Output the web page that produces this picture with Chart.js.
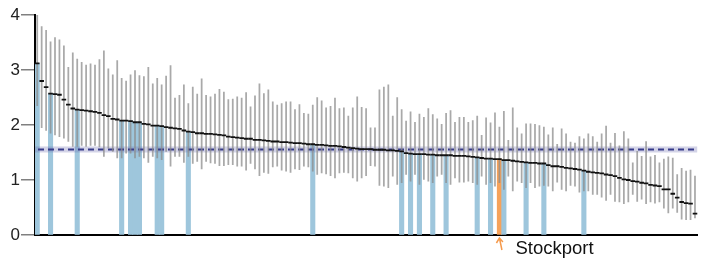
<!DOCTYPE html>
<html>
<head>
<meta charset="utf-8">
<script src="https://cdn.jsdelivr.net/npm/chart.js@4.4.1/dist/chart.umd.min.js"></script>
<style>
  html, body { margin: 0; padding: 0; background: #fff; }
</style>
</head>
<body>
<canvas id="chart" width="703" height="262"></canvas>
<script>
// point estimates, sorted high to low (one per area)
const estimates = [
  3.12, 2.80, 2.69, 2.57, 2.56, 2.55, 2.46, 2.37, 2.30, 2.28,
  2.27, 2.26, 2.25, 2.24, 2.22, 2.18, 2.16, 2.11, 2.10, 2.08,
  2.08, 2.07, 2.05, 2.05, 2.02, 2.01, 1.99, 1.99, 1.98, 1.96,
  1.95, 1.94, 1.93, 1.90, 1.88, 1.87, 1.85, 1.85, 1.84, 1.84,
  1.83, 1.82, 1.81, 1.79, 1.78, 1.77, 1.76, 1.75, 1.75, 1.73,
  1.73, 1.72, 1.71, 1.70, 1.70, 1.69, 1.69, 1.68, 1.67, 1.67,
  1.66, 1.65, 1.65, 1.64, 1.64, 1.63, 1.62, 1.62, 1.61, 1.60,
  1.59, 1.58, 1.57, 1.56, 1.56, 1.56, 1.55, 1.55, 1.55, 1.54,
  1.54, 1.53, 1.52, 1.49, 1.48, 1.47, 1.47, 1.47, 1.46, 1.46,
  1.45, 1.45, 1.45, 1.45, 1.44, 1.44, 1.44, 1.43, 1.42, 1.41,
  1.40, 1.39, 1.39, 1.38, 1.38, 1.36, 1.36, 1.35, 1.34, 1.33,
  1.32, 1.31, 1.31, 1.30, 1.30, 1.27, 1.25, 1.25, 1.24, 1.22,
  1.21, 1.20, 1.19, 1.17, 1.15, 1.14, 1.13, 1.12, 1.10, 1.09,
  1.07, 1.04, 1.01, 1.00, 0.98, 0.97, 0.95, 0.94, 0.91, 0.90,
  0.89, 0.83, 0.83, 0.75, 0.68, 0.60, 0.58, 0.57, 0.39
];

const upper = [
  4.06, 3.79, 3.72, 3.51, 3.59, 3.55, 3.44, 3.05, 3.31, 3.20,
  3.14, 3.09, 3.11, 3.09, 3.19, 3.35, 3.02, 2.91, 3.17, 2.85,
  2.80, 2.91, 2.99, 2.90, 2.88, 3.05, 2.75, 2.85, 2.73, 2.89,
  3.08, 2.49, 2.54, 2.73, 2.39, 2.69, 2.56, 2.84, 2.54, 2.51,
  2.56, 2.65, 2.60, 2.46, 2.47, 2.51, 2.49, 2.59, 2.33, 2.53,
  2.75, 2.57, 2.64, 2.42, 2.36, 2.39, 2.42, 2.42, 2.28, 2.37,
  2.21, 2.20, 2.36, 2.50, 2.44, 2.31, 2.34, 2.49, 2.30, 2.31,
  2.16, 2.31, 2.51, 2.32, 2.30, 1.95, 1.95, 2.64, 2.69, 2.73,
  2.16, 2.50, 2.28, 2.07, 2.24, 2.05, 2.20, 2.14, 2.30, 2.19,
  2.11, 2.01, 2.21, 2.26, 2.05, 2.14, 2.14, 2.05, 2.08, 2.16,
  1.81, 2.13, 2.04, 2.22, 1.96, 2.25, 1.72, 2.31, 1.95, 1.84,
  2.02, 2.02, 2.01, 1.99, 1.96, 1.82, 1.95, 1.65, 1.93, 1.84,
  1.69, 1.67, 1.79, 1.75, 1.84, 1.79, 1.69, 1.84, 1.98, 1.67,
  1.85, 1.62, 1.88, 1.75, 1.31, 1.52, 1.43, 1.70, 1.42, 1.45,
  1.31, 1.38, 1.42, 1.40, 1.10, 1.21, 1.16, 1.18, 1.07
];

const lower = [
  2.35, 1.95, 1.90, 1.85, 1.82, 1.79, 1.76, 1.70, 1.61, 1.61,
  1.63, 1.61, 1.63, 1.63, 1.60, 1.43, 1.58, 1.52, 1.40, 1.40,
  1.49, 1.49, 1.40, 1.43, 1.40, 1.32, 1.43, 1.40, 1.37, 1.52,
  1.25, 1.43, 1.43, 1.32, 1.43, 1.30, 1.34, 1.20, 1.34, 1.31,
  1.30, 1.26, 1.26, 1.28, 1.28, 1.25, 1.25, 1.18, 1.30, 1.20,
  1.08, 1.14, 1.12, 1.24, 1.25, 1.18, 1.16, 1.14, 1.20, 1.19,
  1.25, 1.24, 1.16, 1.10, 1.13, 1.11, 1.08, 1.04, 1.13, 1.14,
  1.13, 1.04, 0.98, 1.04, 1.08, 1.26, 1.25, 0.90, 0.89, 0.86,
  1.07, 0.92, 0.95, 1.10, 0.98, 1.10, 0.92, 1.01, 0.98, 0.95,
  1.07, 1.10, 0.95, 0.92, 1.04, 0.96, 0.96, 0.98, 0.95, 0.92,
  1.07, 0.92, 0.95, 0.89, 0.95, 0.83, 1.07, 0.80, 0.98, 0.95,
  0.86, 0.95, 0.86, 0.89, 0.90, 0.89, 0.80, 0.96, 0.83, 0.80,
  0.90, 0.89, 0.78, 0.80, 0.80, 0.74, 0.74, 0.69, 0.63, 0.74,
  0.61, 0.60, 0.57, 0.60, 0.74, 0.61, 0.65, 0.57, 0.60, 0.58,
  0.60, 0.49, 0.40, 0.49, 0.41, 0.29, 0.28, 0.28, 0.31
];

// areas drawn with a filled bar (rank positions)
const highlighted = [0, 3, 9, 19, 21, 22, 23, 27, 28, 34, 62, 82, 84, 86, 89, 92, 99, 102, 105, 110, 114, 123];
const focusIndex = 104;
const focusName = "Stockport";

// national average and its interval
const average = 1.555;
const averageLow = 1.50;
const averageHigh = 1.61;

const yTicks = [0, 1, 2, 3, 4];

const ranks = estimates.map((_, i) => String(i + 1));
const blueBars = estimates.map((v, i) => highlighted.includes(i) ? v : null);
const orangeBars = estimates.map((v, i) => i === focusIndex ? v : null);
const ranges = lower.map((lo, i) => [lo, upper[i]]);

const FONT = "'Liberation Sans', Arial, sans-serif";

// band + dashed average line, drawn just before the error bars
const averageLine = {
  id: "averageLine",
  beforeDatasetDraw(chart, args) {
    if (args.index !== 1) return;
    const { ctx, chartArea } = chart;
    const y = chart.scales.y;
    ctx.save();
    ctx.fillStyle = "rgba(110,110,175,0.3)";
    const top = y.getPixelForValue(averageHigh);
    ctx.fillRect(chartArea.left, top, chartArea.right - chartArea.left, y.getPixelForValue(averageLow) - top);
    ctx.strokeStyle = "#363a8a";
    ctx.lineWidth = 2;
    ctx.setLineDash([6, 4]);
    ctx.beginPath();
    ctx.moveTo(chartArea.left + 3, y.getPixelForValue(average));
    ctx.lineTo(chartArea.right, y.getPixelForValue(average));
    ctx.stroke();
    ctx.restore();
  }
};

// gray tick marks left of the y axis, plus label/arrow under the focus area
const annotations = {
  id: "annotations",
  afterDraw(chart) {
    const { ctx, chartArea } = chart;
    const y = chart.scales.y;
    ctx.save();
    ctx.setLineDash([]);
    ctx.globalAlpha = 1;
    ctx.fillStyle = "#808080";
    yTicks.forEach(v => {
      const py = Math.round(y.getPixelForValue(v));
      ctx.fillRect(chartArea.left - 14, py - 1, 13, 1.5);
    });

    const x = chart.scales.x.getPixelForValue(focusIndex);
    const base = chartArea.bottom;
    ctx.strokeStyle = "#f59a4c";
    ctx.lineWidth = 1.5;
    ctx.beginPath();
    ctx.moveTo(x + 2.5, base + 15);
    ctx.lineTo(x, base + 3);
    ctx.moveTo(x - 3, base + 8);
    ctx.lineTo(x, base + 3);
    ctx.lineTo(x + 3.5, base + 7);
    ctx.stroke();
    ctx.fillStyle = "#111";
    ctx.font = "18.5px " + FONT;
    ctx.textBaseline = "alphabetic";
    ctx.fillText(focusName, x + 16, base + 19);
    ctx.restore();
  }
};

new Chart(document.getElementById("chart"), {
  data: {
    labels: ranks,
    datasets: [
      {
        type: "line",
        data: estimates,
        showLine: false,
        pointStyle: "line",
        pointRadius: 2.3,
        pointBorderWidth: 1.8,
        pointBorderColor: "#111",
        order: 1
      },
      {
        type: "bar",
        data: ranges,
        backgroundColor: "rgba(140,140,140,0.75)",
        barThickness: 1.1,
        grouped: false,
        order: 2
      },
      {
        type: "bar",
        data: blueBars,
        backgroundColor: "#9ec6dc",
        barPercentage: 1,
        categoryPercentage: 1,
        grouped: false,
        order: 3
      },
      {
        type: "bar",
        data: orangeBars,
        backgroundColor: "#f6a25a",
        barPercentage: 1,
        categoryPercentage: 1,
        grouped: false,
        order: 4
      }
    ]
  },
  options: {
    responsive: false,
    animation: false,
    devicePixelRatio: 1,
    events: [],
    layout: { padding: { top: 15, right: 1, left: 0, bottom: 0 } },
    plugins: { legend: { display: false }, tooltip: { enabled: false } },
    scales: {
      x: {
        type: "category",
        offset: true,
        grid: { display: false },
        ticks: { display: false },
        border: { display: true, color: "#000", width: 2 },
        afterFit: s => { s.height = 27; }
      },
      y: {
        min: 0,
        max: 4,
        afterBuildTicks: s => { s.ticks = yTicks.map(v => ({ value: v })); },
        ticks: { font: { family: FONT, size: 17 }, color: "#222", padding: 1 },
        grid: { display: true, drawOnChartArea: false, drawTicks: true, tickLength: 14, color: "rgba(0,0,0,0)" },
        border: { color: "#000", width: 2 },
        afterFit: s => { s.width = 35; }
      }
    }
  },
  plugins: [averageLine, annotations]
});
</script>
</body>
</html>
